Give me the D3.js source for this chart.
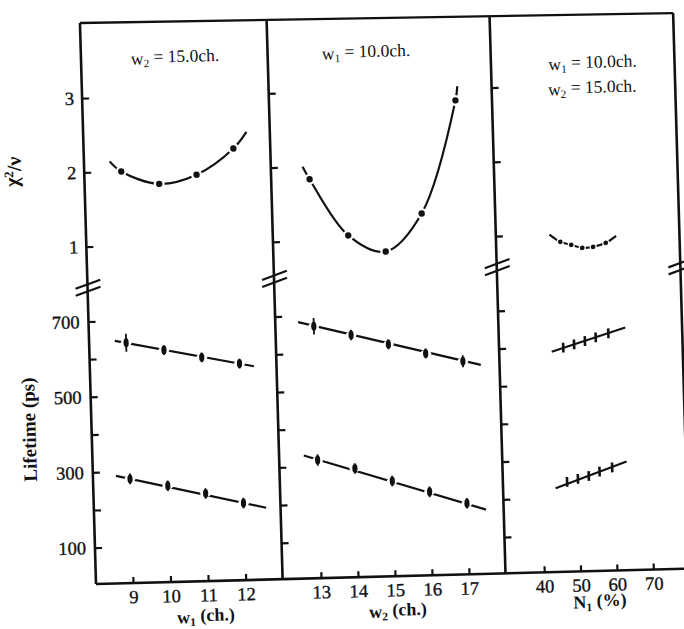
<!DOCTYPE html>
<html>
<head>
<meta charset="utf-8">
<script src="https://cdn.jsdelivr.net/npm/d3@7"></script>
<style>
  body { margin: 0; background: #fff; }
  text { font-family: "Liberation Serif", "DejaVu Serif", serif; fill: #111; }
  .tick text { stroke: #111; stroke-width: 0.35px; }
</style>
</head>
<body>
<svg id="chart" width="684" height="629"></svg>
<script>
// ---- data ----
// panel 1 : w1 varied, w2 = 15.0 ch
var w1 = [9, 10, 11, 12];
var w1Chi = [2.0, 1.82, 1.93, 2.27];
var w1ChiCurve = [[8.7, 2.14], [9, 2.0], [10, 1.82], [11, 1.93], [12, 2.27], [12.36, 2.49]];
var w1Long = [641, 619, 597, 578];
var w1LongErr = [24, 13, 13, 13];
var w1LongFit = [[8.7, 647], [12.38, 570]];
var w1Short = [280, 259, 236, 208];
var w1ShortErr = [14, 14, 14, 14];
var w1ShortFit = [[8.63, 289], [12.6, 194]];

// panel 2 : w2 varied, w1 = 10.0 ch
var w2 = [13, 14, 15, 16, 17];
var w2Chi = [1.83, 1.06, 0.83, 1.33, 2.84];
var w2ChiCurve = [[12.82, 2.0], [13, 1.83], [14, 1.06], [15, 0.83], [16, 1.33], [17, 2.84], [17.06, 3.03]];
var w2Long = [672, 646, 619, 592, 569];
var w2LongErr = [22, 14, 13, 13, 16];
var w2LongFit = [[12.58, 684], [17.48, 558]];
var w2Short = [317, 292, 256, 225, 192];
var w2ShortErr = [15, 14, 14, 14, 14];
var w2ShortFit = [[12.63, 330], [17.51, 174]];

// panel 3 : N1 varied, w1 = 10.0 ch, w2 = 15.0 ch
var n1 = [47, 50, 53, 56, 59.5];
var n1Chi = [0.90, 0.855, 0.81, 0.82, 0.87];
var n1ChiCurve = [[44.1, 1.0], [47, 0.90], [50, 0.855], [53, 0.81], [56, 0.82], [59.5, 0.87], [62.4, 0.96]];
var n1Long = [598, 606, 614, 623, 633];
var n1LongErr = [13, 13, 13, 13, 13];
var n1LongFit = [[43.8, 588], [64.2, 647]];
var n1Short = [242, 249, 256, 267, 277];
var n1ShortErr = [13, 13, 13, 13, 13];
var n1ShortFit = [[43.8, 226], [63.5, 292]];

var chiTicks = [1, 2, 3];
var lifeTicks = [100, 200, 300, 400, 500, 600, 700];
var lifeLabels = [100, 300, 500, 700];
var w1Ticks = [9, 10, 11, 12];
var w2Ticks = [13, 14, 15, 16, 17];
var n1Ticks = [40, 50, 60, 70];

// ---- layout ----
var X0 = 96, Y0 = 584;              // lower left corner of the frame
var divX = [96, 282.6, 505.5, 689]; // panel borders
var topY = [23, 24.7, 26.8, 28.5];
var breakY = [288, 284, 278, 282];

var svg = d3.select("#chart");
// the scanned page is slightly tilted: reproduce it with a small affine transform about the corner
var ma = 1, mb = -0.026, mc = 0.0286, md = 1;
var me = X0 - (ma * X0 + mc * Y0), mf = Y0 - (mb * X0 + md * Y0);
var g = svg.append("g")
  .attr("transform", "matrix(" + [ma, mb, mc, md, me, mf].join(",") + ")");

var x1 = d3.scaleLinear().domain([9, 12]).range([133, 245.7]);
var x2 = d3.scaleLinear().domain([13, 17]).range([321, 469]);
var x3 = d3.scaleLinear().domain([40, 70]).range([544.2, 653.3]);
var yChi = d3.scaleLinear().domain([1, 3]).range([246.7, 98.2]);
var yLife = d3.scaleLinear().domain([100, 700]).range([547.7, 321.5]);

var ink = "#111";

// frame
g.append("line").attr("x1", divX[0]).attr("y1", topY[0]).attr("x2", divX[3]).attr("y2", topY[3])
  .attr("stroke", ink).attr("stroke-width", 2.3);
g.append("line").attr("x1", X0).attr("y1", Y0).attr("x2", 720).attr("y2", Y0)
  .attr("stroke", ink).attr("stroke-width", 2.6);
divX.forEach(function (d, i) {
  g.append("line").attr("x1", d).attr("y1", topY[i]).attr("x2", d).attr("y2", Y0)
    .attr("stroke", ink).attr("stroke-width", 2.6);
  // axis break marks
  [-3.5, 3.5].forEach(function (o) {
    g.append("line")
      .attr("x1", d - 12).attr("y1", breakY[i] + o + 4)
      .attr("x2", d + 13).attr("y2", breakY[i] + o - 4.5)
      .attr("stroke", ink).attr("stroke-width", 2.2);
  });
});

// y axes (ticks inward) on each panel's left border
function styleAxis(sel) {
  sel.select(".domain").remove();
  sel.selectAll(".tick line").attr("stroke", ink).attr("stroke-width", 2.2);
  sel.selectAll(".tick text").style("font-size", "18.5px");
}
[0, 1, 2].forEach(function (i) {
  var a = g.append("g").attr("transform", "translate(" + divX[i] + ",0)")
    .call(d3.axisLeft(yChi).tickValues(chiTicks).tickSizeInner(-7).tickSizeOuter(0).tickPadding(8)
      .tickFormat(i === 0 ? d3.format("d") : function () { return ""; }));
  styleAxis(a);
  var b = g.append("g").attr("transform", "translate(" + divX[i] + ",0)")
    .call(d3.axisLeft(yLife).tickValues(lifeTicks).tickSizeInner(-7).tickSizeOuter(0).tickPadding(9)
      .tickFormat(function (d) { return i === 0 && lifeLabels.indexOf(d) >= 0 ? d : ""; }));
  styleAxis(b);
});

// x axes (ticks pointing up)
[[x1, w1Ticks], [x2, w2Ticks], [x3, n1Ticks]].forEach(function (p) {
  var a = g.append("g").attr("transform", "translate(0," + Y0 + ")")
    .call(d3.axisBottom(p[0]).tickValues(p[1]).tickSizeInner(-6).tickSizeOuter(0).tickPadding(7)
      .tickFormat(d3.format("d")));
  styleAxis(a);
});

// ---- data marks ----
var chiLine = d3.line().curve(d3.curveCatmullRom.alpha(0.5));
var straight = d3.line();

function drawChi(x, xs, ys, curve, r, halo) {
  g.append("path").attr("d", chiLine(curve.map(function (d) { return [x(d[0]), yChi(d[1])]; })))
    .attr("fill", "none").attr("stroke", ink).attr("stroke-width", 2.2);
  xs.forEach(function (v, k) {
    g.append("circle").attr("cx", x(v)).attr("cy", yChi(ys[k])).attr("r", halo).attr("fill", "#fff");
    g.append("circle").attr("cx", x(v)).attr("cy", yChi(ys[k])).attr("r", r).attr("fill", ink);
  });
}

function drawLife(x, xs, ys, errs, fit, cross) {
  g.append("path").attr("d", straight(fit.map(function (d) { return [x(d[0]), yLife(d[1])]; })))
    .attr("fill", "none").attr("stroke", ink).attr("stroke-width", 2.2);
  xs.forEach(function (v, k) {
    var cx = x(v), cy = yLife(ys[k]);
    if (!cross) {
      g.append("ellipse").attr("cx", cx).attr("cy", cy).attr("rx", 5.5).attr("ry", 3.5).attr("fill", "#fff");
    }
    g.append("line").attr("x1", cx).attr("x2", cx)
      .attr("y1", yLife(ys[k] + errs[k])).attr("y2", yLife(ys[k] - errs[k]))
      .attr("stroke", ink).attr("stroke-width", cross ? 2.6 : 1.8);
    if (!cross) {
      g.append("ellipse").attr("cx", cx).attr("cy", cy).attr("rx", 2.6).attr("ry", 4.5).attr("fill", ink);
    }
  });
}

drawChi(x1, w1, w1Chi, w1ChiCurve, 3.2, 5.5);
drawChi(x2, w2, w2Chi, w2ChiCurve, 3.2, 5.5);
drawChi(x3, n1, n1Chi, n1ChiCurve, 2.4, 3.6);

drawLife(x1, w1, w1Long, w1LongErr, w1LongFit, false);
drawLife(x1, w1, w1Short, w1ShortErr, w1ShortFit, false);
drawLife(x2, w2, w2Long, w2LongErr, w2LongFit, false);
drawLife(x2, w2, w2Short, w2ShortErr, w2ShortFit, false);
drawLife(x3, n1, n1Long, n1LongErr, n1LongFit, true);
drawLife(x3, n1, n1Short, n1ShortErr, n1ShortFit, true);

// ---- texts ----
function label(x, y, parts, size, weight, rot) {
  var t = g.append("text").attr("x", x).attr("y", y).attr("text-anchor", "middle")
    .style("font-size", size + "px").style("font-weight", weight || "normal");
  if (rot) t.attr("transform", "rotate(" + rot + "," + x + "," + y + ")");
  parts.forEach(function (p) {
    var s = t.append("tspan").text(p[0]);
    if (p[1] === "sub") s.attr("dy", "0.25em").style("font-size", (size * 0.65) + "px");
    if (p[1] === "back") s.attr("dy", "-0.25em");
    if (p[1] === "sup") s.attr("dy", "-0.4em").style("font-size", (size * 0.65) + "px");
    if (p[1] === "down") s.attr("dy", "0.4em");
  });
  return t;
}

label(190, 66, [["w"], ["2", "sub"], [" = 15.0ch.", "back"]], 17.5);
label(381, 66, [["w"], ["1", "sub"], [" = 10.0ch.", "back"]], 17.5);
label(607, 82.5, [["w"], ["1", "sub"], [" = 10.0ch.", "back"]], 17.5);
label(606, 107.5, [["w"], ["2", "sub"], [" = 15.0ch.", "back"]], 17.5);

label(205, 625.5, [["w"], ["1", "sub"], [" (ch.)", "back"]], 18, "bold");
label(397, 625, [["w"], ["2", "sub"], [" (ch.)", "back"]], 18, "bold");
label(599, 621, [["N"], ["1", "sub"], [" (%)", "back"]], 18, "bold");

label(30, 170, [["χ"], ["2", "sup"], ["/ν", "down"]], 20, "bold", -90);
label(40, 428, [["Lifetime (ps)"]], 19, "bold", -90);
</script>
</body>
</html>
